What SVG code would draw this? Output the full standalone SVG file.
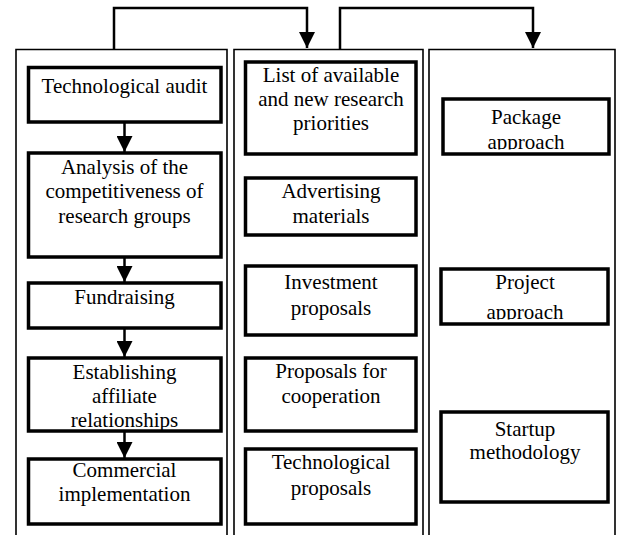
<svg xmlns="http://www.w3.org/2000/svg" width="618" height="535" viewBox="0 0 618 535">
  <style>
    .col { fill: none; stroke: #000; stroke-width: 1.6; }
    .box { fill: #fff; stroke: #000; stroke-width: 3.5; }
    .lbl { font-family: 'Liberation Serif', 'Times New Roman', serif; font-size: 21px; fill: #000; text-anchor: middle; }
    .wire { fill: none; stroke: #000; stroke-width: 2.5; }
  </style>
  <defs>
    <marker id="arrow" markerUnits="userSpaceOnUse" markerWidth="16" markerHeight="16" viewBox="0 0 16 16" refX="16" refY="8" orient="auto">
      <path d="M0,0 L16,8 L0,16 Z" fill="#000"/>
    </marker>
    <clipPath id="clipPackage"><rect x="443" y="99" width="166" height="50.5"/></clipPath>
    <clipPath id="clipProject"><rect x="441" y="269" width="167" height="50.5"/></clipPath>
  </defs>

  <rect width="618" height="535" fill="#fff"/>

  <!-- column frames (open at the bottom) -->
  <g id="columns">
    <path class="col" d="M16,536 V49.5 H227 V536"/>
    <path class="col" d="M234,536 V49.5 H423 V536"/>
    <path class="col" d="M429,536 V49.5 H615 V536"/>
  </g>

  <!-- connectors -->
  <g id="connectors">
    <path class="wire" d="M114,49 V8 H307 V48" marker-end="url(#arrow)"/>
    <path class="wire" d="M340,49 V8 H533 V48" marker-end="url(#arrow)"/>
    <path class="wire" d="M124.5,122 V152" marker-end="url(#arrow)"/>
    <path class="wire" d="M124.5,257 V282" marker-end="url(#arrow)"/>
    <path class="wire" d="M124.5,328 V357" marker-end="url(#arrow)"/>
    <path class="wire" d="M124.5,431 V458" marker-end="url(#arrow)"/>
  </g>

  <!-- first column: process steps -->
  <g id="tech-audit">
    <rect class="box" x="28.5" y="67.5" width="192.5" height="54.5"/>
    <text class="lbl" x="124.5" y="92.5">Technological audit</text>
  </g>
  <g id="competitiveness">
    <rect class="box" x="28.5" y="153" width="192.5" height="104"/>
    <text class="lbl" x="124.5" y="173.5">Analysis of the</text>
    <text class="lbl" x="124.5" y="198">competitiveness of</text>
    <text class="lbl" x="124.5" y="222.5">research groups</text>
  </g>
  <g id="fundraising">
    <rect class="box" x="28.5" y="283" width="192.5" height="45"/>
    <text class="lbl" x="124.5" y="304">Fundraising</text>
  </g>
  <g id="affiliate">
    <rect class="box" x="28.5" y="358" width="192.5" height="73"/>
    <text class="lbl" x="124.5" y="379">Establishing</text>
    <text class="lbl" x="124.5" y="403">affiliate</text>
    <text class="lbl" x="124.5" y="427">relationships</text>
  </g>
  <g id="commercial">
    <rect class="box" x="28.5" y="459" width="192.5" height="65"/>
    <text class="lbl" x="124.5" y="477">Commercial</text>
    <text class="lbl" x="124.5" y="501">implementation</text>
  </g>

  <!-- second column: outputs -->
  <g id="priorities">
    <rect class="box" x="245.5" y="62" width="170.5" height="92"/>
    <text class="lbl" x="331" y="82">List of available</text>
    <text class="lbl" x="331" y="106">and new research</text>
    <text class="lbl" x="331" y="130">priorities</text>
  </g>
  <g id="advertising">
    <rect class="box" x="245.5" y="178" width="170.5" height="57"/>
    <text class="lbl" x="331" y="198">Advertising</text>
    <text class="lbl" x="331" y="223">materials</text>
  </g>
  <g id="investment">
    <rect class="box" x="245.5" y="266" width="170.5" height="69"/>
    <text class="lbl" x="331" y="289">Investment</text>
    <text class="lbl" x="331" y="315">proposals</text>
  </g>
  <g id="cooperation">
    <rect class="box" x="245.5" y="358" width="170.5" height="73"/>
    <text class="lbl" x="331" y="378">Proposals for</text>
    <text class="lbl" x="331" y="403">cooperation</text>
  </g>
  <g id="tech-proposals">
    <rect class="box" x="245.5" y="449" width="170.5" height="75"/>
    <text class="lbl" x="331" y="469">Technological</text>
    <text class="lbl" x="331" y="495">proposals</text>
  </g>

  <!-- third column: approaches -->
  <g id="package">
    <rect class="box" x="443" y="99" width="166" height="55"/>
    <g clip-path="url(#clipPackage)">
      <text class="lbl" x="526" y="124">Package</text>
      <text class="lbl" x="526" y="148.5">approach</text>
    </g>
  </g>
  <g id="project">
    <rect class="box" x="441" y="269" width="167" height="55"/>
    <g clip-path="url(#clipProject)">
      <text class="lbl" x="525" y="289">Project</text>
      <text class="lbl" x="525" y="318.5">approach</text>
    </g>
  </g>
  <g id="startup">
    <rect class="box" x="441" y="412" width="167" height="90"/>
    <text class="lbl" x="525" y="435.5">Startup</text>
    <text class="lbl" x="525" y="458.5">methodology</text>
  </g>
</svg>
